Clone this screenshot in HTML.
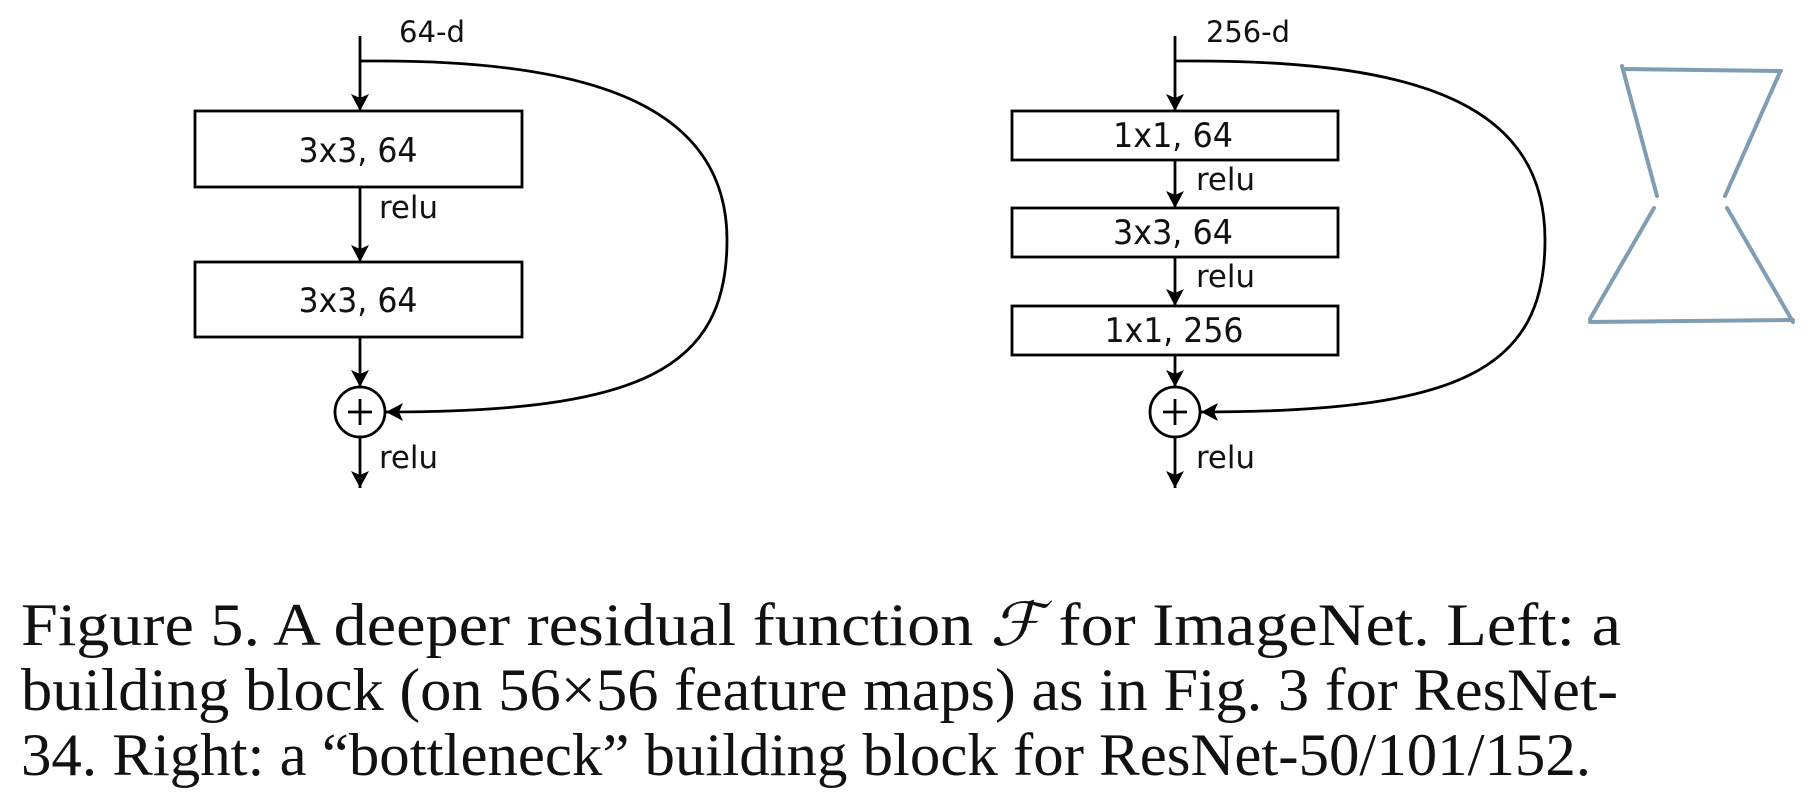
<!DOCTYPE html>
<html><head><meta charset="utf-8"><style>
html,body{margin:0;padding:0;background:#fff;}
svg{display:block;}
.s{font-family:"DejaVu Sans Condensed","Liberation Sans",sans-serif;fill:#111;}
.c{font-family:"Liberation Serif",serif;font-size:60px;fill:#111;}
</style></head><body>
<svg width="1814" height="806" viewBox="0 0 1814 806" xmlns="http://www.w3.org/2000/svg">
<defs>
<marker id="a" markerWidth="18" markerHeight="18" refX="17" refY="9" orient="auto" markerUnits="userSpaceOnUse" viewBox="0 0 18 18">
<path d="M0,0 L17,9 L0,18 L4,9 z" fill="#000"/></marker>
</defs>
<g stroke="#000" stroke-width="2.8" fill="none">
<!-- Left -->
<line x1="360" y1="36" x2="360" y2="111" marker-end="url(#a)"/>
<rect x="195" y="111" width="327" height="76"/>
<line x1="360" y1="187" x2="360" y2="262" marker-end="url(#a)"/>
<rect x="195" y="262" width="327" height="75"/>
<line x1="360" y1="337" x2="360" y2="387" marker-end="url(#a)"/>
<circle cx="360" cy="412" r="25"/>
<line x1="348" y1="412" x2="372" y2="412"/><line x1="360" y1="399" x2="360" y2="425"/>
<line x1="360" y1="437" x2="360" y2="488" marker-end="url(#a)"/>
<path d="M360,61 L380,61 C600,61 727,110 727,240 C727,370 640,412 386,412" marker-end="url(#a)"/>
<!-- Right -->
<line x1="1175" y1="36" x2="1175" y2="111" marker-end="url(#a)"/>
<rect x="1012" y="111" width="326" height="49"/>
<line x1="1175" y1="160" x2="1175" y2="208" marker-end="url(#a)"/>
<rect x="1012" y="208" width="326" height="49"/>
<line x1="1175" y1="257" x2="1175" y2="306" marker-end="url(#a)"/>
<rect x="1012" y="306" width="326" height="49"/>
<line x1="1175" y1="355" x2="1175" y2="387" marker-end="url(#a)"/>
<circle cx="1175" cy="412" r="25"/>
<line x1="1163" y1="412" x2="1187" y2="412"/><line x1="1175" y1="399" x2="1175" y2="425"/>
<line x1="1175" y1="437" x2="1175" y2="488" marker-end="url(#a)"/>
<path d="M1175,61 L1195,61 C1430,61 1545,110 1545,240 C1545,370 1460,412 1201,412" marker-end="url(#a)"/>
</g>
<!-- hourglass -->
<g stroke="#7f9db3" stroke-width="4" fill="none" stroke-linecap="round">
<path d="M1626,69 L1781,71"/>
<path d="M1622,66 L1657,196"/>
<path d="M1780,72 L1725,196"/>
<path d="M1654,208 L1590,319"/>
<path d="M1727,208 L1793,322"/>
<path d="M1590,322 L1793,320"/>
</g>
<g class="s">
<text x="399" y="42" font-size="29" textLength="66" lengthAdjust="spacingAndGlyphs">64-d</text>
<text x="1206" y="42" font-size="29" textLength="84" lengthAdjust="spacingAndGlyphs">256-d</text>
<text x="358" y="162" font-size="34" text-anchor="middle" textLength="119" lengthAdjust="spacingAndGlyphs">3x3, 64</text>
<text x="358" y="312" font-size="34" text-anchor="middle" textLength="119" lengthAdjust="spacingAndGlyphs">3x3, 64</text>
<text x="379" y="218" font-size="31" textLength="59" lengthAdjust="spacingAndGlyphs">relu</text>
<text x="379" y="468" font-size="31" textLength="59" lengthAdjust="spacingAndGlyphs">relu</text>
<text x="1173" y="147" font-size="34" text-anchor="middle" textLength="120" lengthAdjust="spacingAndGlyphs">1x1, 64</text>
<text x="1173" y="244" font-size="34" text-anchor="middle" textLength="120" lengthAdjust="spacingAndGlyphs">3x3, 64</text>
<text x="1174" y="342" font-size="34" text-anchor="middle" textLength="139" lengthAdjust="spacingAndGlyphs">1x1, 256</text>
<text x="1196" y="190" font-size="31" textLength="59" lengthAdjust="spacingAndGlyphs">relu</text>
<text x="1196" y="287" font-size="31" textLength="59" lengthAdjust="spacingAndGlyphs">relu</text>
<text x="1196" y="468" font-size="31" textLength="59" lengthAdjust="spacingAndGlyphs">relu</text>
</g>
<g class="c">
<text x="21" y="645" textLength="1600" lengthAdjust="spacingAndGlyphs">Figure 5. A deeper residual function <tspan font-style="italic">ℱ</tspan> for ImageNet.  Left: a</text>
<text x="21" y="710" textLength="1597" lengthAdjust="spacingAndGlyphs">building block (on 56×56 feature maps) as in Fig. 3 for ResNet-</text>
<text x="21" y="775" textLength="1570" lengthAdjust="spacingAndGlyphs">34. Right: a “bottleneck” building block for ResNet-50/101/152.</text>
</g>
</svg>
</body></html>
